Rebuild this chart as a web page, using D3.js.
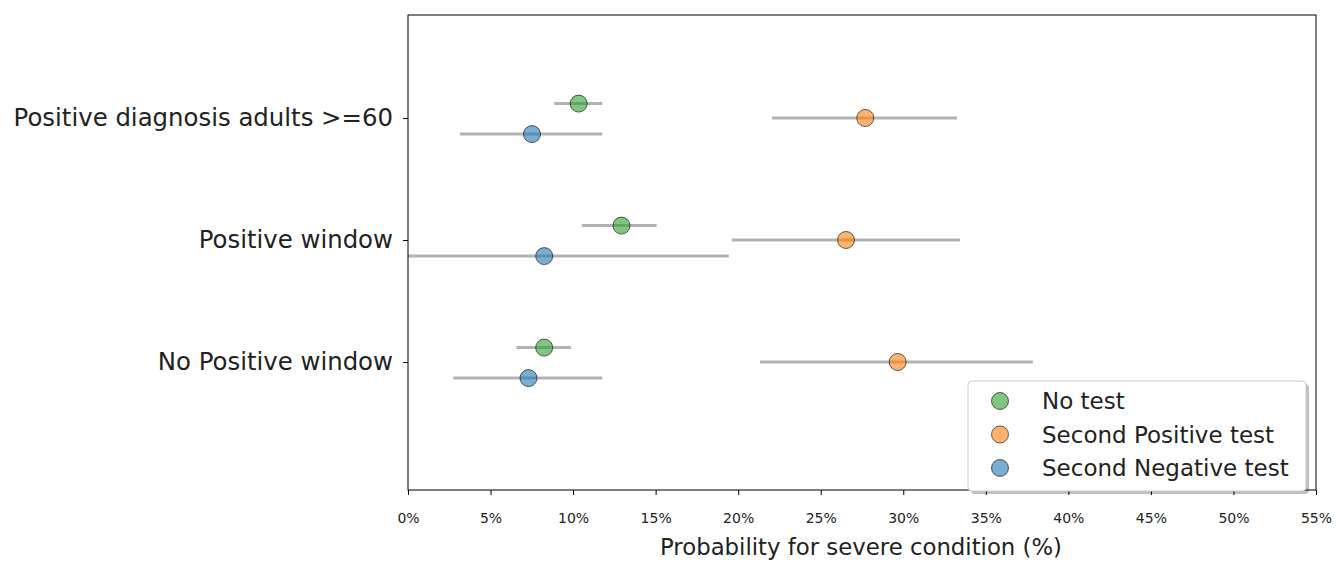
<!DOCTYPE html>
<html>
<head>
<meta charset="utf-8">
<script src="https://cdn.jsdelivr.net/npm/d3@7"></script>
<style>
  html, body { margin: 0; padding: 0; background: #fff; }
  svg { display: block; font-family: "DejaVu Sans", sans-serif; }
</style>
</head>
<body>
<svg id="chart" width="1336" height="562"></svg>
<script>
// ---- data ----
const categories = ["Positive diagnosis adults >=60", "Positive window", "No Positive window"];
const seriesNames = ["No test", "Second Positive test", "Second Negative test"];
const seriesColors = ["#2ca02c", "#ff7f0e", "#1f77b4"];
// point estimates (%)
const noTest      = [10.34, 12.93, 8.25];
const secondPos   = [27.70, 26.53, 29.66];
const secondNeg   = [7.51, 8.25, 7.30];
// confidence interval lower / upper (%)
const noTestLow    = [8.86, 10.52, 6.57];
const noTestHigh   = [11.77, 15.06, 9.87];
const secondPosLow = [22.05, 19.61, 21.32];
const secondPosHigh= [33.26, 33.44, 37.85];
const secondNegLow = [3.15, -2.93, 2.75];
const secondNegHigh= [11.77, 19.43, 11.77];
const xTicks = [0, 5, 10, 15, 20, 25, 30, 35, 40, 45, 50, 55];
const xLabel = "Probability for severe condition (%)";

// ---- layout ----
const svg = d3.select("#chart");
const L = 408, R = 1316, T = 15, B = 490;
const x = d3.scaleLinear().domain([0, 55]).range([L, R]);
const y = d3.scalePoint().domain(categories).range([118, 362]);
const step = y.step();
const seriesOffset = [-0.118, 0, 0.132];

const series = [
  {name: seriesNames[0], color: seriesColors[0], v: noTest, lo: noTestLow, hi: noTestHigh, off: seriesOffset[0]},
  {name: seriesNames[1], color: seriesColors[1], v: secondPos, lo: secondPosLow, hi: secondPosHigh, off: seriesOffset[1]},
  {name: seriesNames[2], color: seriesColors[2], v: secondNeg, lo: secondNegLow, hi: secondNegHigh, off: seriesOffset[2]}
];

svg.append("defs").append("clipPath").attr("id", "clip")
  .append("rect").attr("x", L).attr("y", T).attr("width", R - L).attr("height", B - T);

const plot = svg.append("g").attr("clip-path", "url(#clip)");

// error bars
series.forEach(s => {
  plot.selectAll(null).data(categories).enter().append("line")
    .attr("x1", (c, i) => x(s.lo[i]))
    .attr("x2", (c, i) => x(s.hi[i]))
    .attr("y1", (c, i) => y(c) + s.off * step)
    .attr("y2", (c, i) => y(c) + s.off * step)
    .attr("stroke", "#000")
    .attr("stroke-opacity", 0.3)
    .attr("stroke-width", 3);
});
// points
series.forEach(s => {
  plot.selectAll(null).data(categories).enter().append("circle")
    .attr("cx", (c, i) => x(s.v[i]))
    .attr("cy", (c, i) => y(c) + s.off * step)
    .attr("r", 8.5)
    .attr("fill", s.color)
    .attr("fill-opacity", 0.6)
    .attr("stroke", "#000")
    .attr("stroke-opacity", 0.6)
    .attr("stroke-width", 1);
});

// frame
svg.append("rect").attr("x", L).attr("y", T).attr("width", R - L).attr("height", B - T)
  .attr("fill", "none").attr("stroke", "#000").attr("stroke-width", 1);

// x axis
const xAxis = svg.append("g").attr("transform", `translate(0,${B})`)
  .call(d3.axisBottom(x).tickValues(xTicks).tickFormat(d => d + "%").tickSize(5).tickPadding(18));
xAxis.select(".domain").remove();
xAxis.selectAll("text").attr("font-size", 14).attr("fill", "#222").attr("font-family", "DejaVu Sans");
xAxis.selectAll("line").attr("stroke", "#000");

svg.append("text").attr("x", (L + R) / 2 - 1).attr("y", 555)
  .attr("text-anchor", "middle").attr("font-size", 23).attr("fill", "#222")
  .attr("textLength", 402).attr("lengthAdjust", "spacingAndGlyphs")
  .text(xLabel);

// y axis
const yAxis = svg.append("g").attr("transform", `translate(${L},0)`)
  .call(d3.axisLeft(y).tickSize(5).tickPadding(10));
yAxis.select(".domain").remove();
yAxis.selectAll("text").attr("font-size", 24.4).attr("fill", "#222").attr("font-family", "DejaVu Sans");
yAxis.selectAll("line").attr("stroke", "#000");

// legend
const lg = svg.append("g");
const lx = 968, ly = 381, lw = 338, lh = 110;
lg.append("rect").attr("x", lx + 3).attr("y", ly + 3).attr("width", lw).attr("height", lh)
  .attr("rx", 4).attr("fill", "#000").attr("fill-opacity", 0.25);
lg.append("rect").attr("x", lx).attr("y", ly).attr("width", lw).attr("height", lh)
  .attr("rx", 4).attr("fill", "#fff").attr("stroke", "#ccc").attr("stroke-width", 1);
series.forEach((s, i) => {
  const yy = ly + 20 + i * 33.5;
  lg.append("circle").attr("cx", lx + 32).attr("cy", yy).attr("r", 8.5)
    .attr("fill", s.color).attr("fill-opacity", 0.6)
    .attr("stroke", "#000").attr("stroke-opacity", 0.6);
  lg.append("text").attr("x", lx + 74).attr("y", yy).attr("dy", "0.35em")
    .attr("font-size", 23).attr("fill", "#222").text(s.name);
});
</script>
</body>
</html>
